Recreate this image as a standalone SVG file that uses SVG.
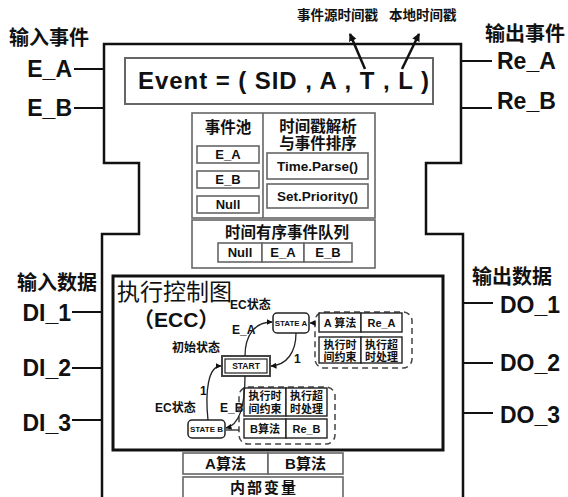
<svg xmlns="http://www.w3.org/2000/svg" width="568" height="497" viewBox="0 0 568 497">
<style>
text{font-family:'Liberation Sans','Noto Sans CJK SC',sans-serif;font-weight:bold;fill:#111}
.big{font-size:23px}
.cjk{font-size:20px}
.sm{font-size:13.5px}
.mid{font-size:15.5px;text-anchor:middle}
.cell{font-size:13px;text-anchor:middle}
.ecs{font-size:12px}
.st{font-size:8px;text-anchor:middle}
.gc{font-size:11px;text-anchor:middle}
.outline{fill:none;stroke:#111;stroke-width:2.5}
.pin{stroke:#111;stroke-width:2}
.gbox{fill:#fff;stroke:#666;stroke-width:1.6}
.bbox{fill:#fff;stroke:#222;stroke-width:1.4}
.dash{fill:none;stroke:#444;stroke-width:1.5;stroke-dasharray:6 4}
.tr{fill:none;stroke:#222;stroke-width:1.3}
</style>
<defs>
<marker id="ah" markerWidth="8" markerHeight="8" refX="7" refY="4" orient="auto" markerUnits="userSpaceOnUse"><path d="M0,0 L8,4 L0,8 z" fill="#111"/></marker>
<marker id="ahs" markerWidth="6" markerHeight="6" refX="5.5" refY="3" orient="auto" markerUnits="userSpaceOnUse"><path d="M0,0 L6,3 L0,6 z" fill="#111"/></marker>
</defs>

<g id="fb-outline">
<path class="outline" d="M102,497 V234 H139 V163 H104 V44 H461 V163 H426 V234 H463 V497"/>
</g>

<g id="pins">
<line class="pin" x1="74" y1="69" x2="104" y2="69"/>
<line class="pin" x1="74" y1="108" x2="104" y2="108"/>
<line class="pin" x1="461" y1="61" x2="492" y2="61"/>
<line class="pin" x1="461" y1="108" x2="492" y2="108"/>
<line class="pin" x1="72" y1="312" x2="102" y2="312"/>
<line class="pin" x1="72" y1="368" x2="102" y2="368"/>
<line class="pin" x1="72" y1="420" x2="102" y2="420"/>
<line class="pin" x1="463" y1="303" x2="493" y2="303"/>
<line class="pin" x1="463" y1="363" x2="493" y2="363"/>
<line class="pin" x1="463" y1="413" x2="493" y2="413"/>
</g>

<g id="pin-labels">
<text class="cjk" x="9" y="45">输入事件</text>
<text class="cjk" x="485" y="41">输出事件</text>
<text class="cjk" x="17" y="290">输入数据</text>
<text class="cjk" x="472" y="284">输出数据</text>
<text class="big" x="72" y="77" text-anchor="end">E_A</text>
<text class="big" x="72" y="116" text-anchor="end">E_B</text>
<text class="big" x="497" y="69">Re_A</text>
<text class="big" x="497" y="109">Re_B</text>
<text class="big" x="71" y="321" text-anchor="end">DI_1</text>
<text class="big" x="71" y="376" text-anchor="end">DI_2</text>
<text class="big" x="71" y="431" text-anchor="end">DI_3</text>
<text class="big" x="500" y="313">DO_1</text>
<text class="big" x="500" y="371">DO_2</text>
<text class="big" x="500" y="423">DO_3</text>
</g>

<g id="event">
<rect x="125" y="58" width="308" height="46" fill="none" stroke="#666" stroke-width="2"/>
<text x="138" y="89" style="font-size:24px" textLength="291" lengthAdjust="spacing">Event = ( SID , A , T , L )</text>
<text class="sm" x="297" y="20">事件源时间戳</text>
<text class="sm" x="389" y="20">本地时间戳</text>
</g>

<g id="event-arrows">
<line x1="365" y1="69" x2="350" y2="34" stroke="#111" stroke-width="2.5" marker-end="url(#ah)"/>
<line x1="402" y1="69" x2="419" y2="34" stroke="#111" stroke-width="2.5" marker-end="url(#ah)"/>
</g>

<g id="event-pool">
<rect class="gbox" x="192" y="113" width="183" height="105"/>
<line x1="263" y1="113" x2="263" y2="218" stroke="#666" stroke-width="1.6"/>
<text class="mid" x="228" y="133">事件池</text>
<rect class="gbox" x="197" y="146" width="62" height="17"/>
<text class="cell" x="228" y="159">E_A</text>
<rect class="gbox" x="197" y="171" width="62" height="17"/>
<text class="cell" x="228" y="184">E_B</text>
<rect class="gbox" x="197" y="196" width="62" height="17"/>
<text class="cell" x="228" y="209">Null</text>
<text class="mid" x="318" y="132">时间戳解析</text>
<text class="mid" x="318" y="149">与事件排序</text>
<rect class="gbox" x="267" y="153" width="101" height="26"/>
<text class="cell" x="317.5" y="171" style="font-size:13.5px">Time.Parse()</text>
<rect class="gbox" x="267" y="184" width="101" height="24"/>
<text class="cell" x="317.5" y="201" style="font-size:13.5px">Set.Priority()</text>
</g>

<g id="event-queue">
<rect class="gbox" x="192" y="220" width="183" height="48"/>
<text class="mid" x="287" y="238">时间有序事件队列</text>
<rect class="gbox" x="218" y="243" width="44" height="19"/>
<rect class="gbox" x="262" y="243" width="42" height="19"/>
<rect class="gbox" x="304" y="243" width="48" height="19"/>
<text class="cell" x="240" y="257">Null</text>
<text class="cell" x="283" y="257">E_A</text>
<text class="cell" x="328" y="257">E_B</text>
</g>

<g id="ecc">
<rect x="113" y="276" width="330" height="174" fill="none" stroke="#111" stroke-width="3"/>
<text x="117" y="300" style="font-size:23px;font-weight:normal">执行控制图</text>
<text x="133" y="327" style="font-size:21px">（ECC）</text>
<text class="ecs" x="230" y="309">EC状态</text>
<text class="ecs" x="232" y="334">E_A</text>
<text class="ecs" x="172" y="352">初始状态</text>
<text class="ecs" x="155" y="412">EC状态</text>
<text class="ecs" x="220" y="412">E_B</text>
<text class="ecs" x="294" y="363">1</text>
<text class="ecs" x="200" y="395">1</text>
</g>

<g id="state-start">
<rect x="222" y="356" width="48" height="20" fill="#fff" stroke="#444" stroke-width="2"/>
<rect x="225" y="359" width="42" height="14" fill="#fff" stroke="#222" stroke-width="1.2"/>
<text class="st" x="246" y="369" style="font-size:8.5px">START</text>
</g>
<g id="state-a">
<rect x="273" y="313" width="36" height="20" rx="4" fill="#fff" stroke="#222" stroke-width="1.5"/>
<text class="st" x="291" y="326">STATE A</text>
</g>
<g id="state-b">
<rect x="188" y="420" width="37" height="18" rx="4" fill="#fff" stroke="#222" stroke-width="1.5"/>
<text class="st" x="206.5" y="432">STATE B</text>
</g>

<g id="action-a">
<rect class="dash" x="315" y="312" width="97" height="56" rx="9"/>
<rect class="bbox" x="319" y="313" width="42" height="19"/>
<rect class="bbox" x="361" y="313" width="41" height="19"/>
<rect class="bbox" x="319" y="337" width="42" height="26"/>
<rect class="bbox" x="361" y="337" width="41" height="26"/>
<text class="gc" x="340" y="326.5">A 算法</text>
<text class="gc" x="381.5" y="326.5">Re_A</text>
<text class="gc" x="340" y="348.5">执行时</text>
<text class="gc" x="340" y="360.5">间约束</text>
<text class="gc" x="381.5" y="348.5">执行超</text>
<text class="gc" x="381.5" y="360.5">时处理</text>
</g>

<g id="action-b">
<rect class="dash" x="239" y="387" width="96" height="57" rx="9"/>
<rect class="bbox" x="244" y="388" width="42" height="28"/>
<rect class="bbox" x="286" y="388" width="41" height="28"/>
<rect class="bbox" x="244" y="419" width="42" height="19"/>
<rect class="bbox" x="286" y="419" width="41" height="19"/>
<text class="gc" x="265" y="400">执行时</text>
<text class="gc" x="265" y="412.5">间约束</text>
<text class="gc" x="306.5" y="400">执行超</text>
<text class="gc" x="306.5" y="412.5">时处理</text>
<text class="gc" x="265" y="432.5">B算法</text>
<text class="gc" x="306.5" y="432.5">Re_B</text>
</g>

<g id="transitions">
<path class="tr" d="M245,356 C245,335 255,322 272,322" marker-end="url(#ahs)"/>
<path class="tr" d="M296,333 C296,352 287,365 271,366" marker-end="url(#ahs)"/>
<path class="tr" d="M208,420 C205,392 208,366 221,366" marker-end="url(#ahs)"/>
<path class="tr" d="M245,376 C245,405 240,425 226,428" marker-end="url(#ahs)"/>
<line class="tr" x1="315" y1="323" x2="310" y2="323" marker-end="url(#ahs)"/>
<line class="tr" x1="239" y1="430" x2="226" y2="430"/>
</g>

<g id="internal">
<rect class="gbox" x="183" y="453" width="85" height="21"/>
<rect class="gbox" x="268" y="453" width="75" height="21"/>
<rect class="gbox" x="183" y="477" width="160" height="22"/>
<text class="mid" x="225.5" y="469" style="font-size:15px">A算法</text>
<text class="mid" x="305.5" y="469" style="font-size:15px">B算法</text>
<text class="mid" x="264" y="493" style="font-size:15px;letter-spacing:2px">内部变量</text>
</g>
</svg>
